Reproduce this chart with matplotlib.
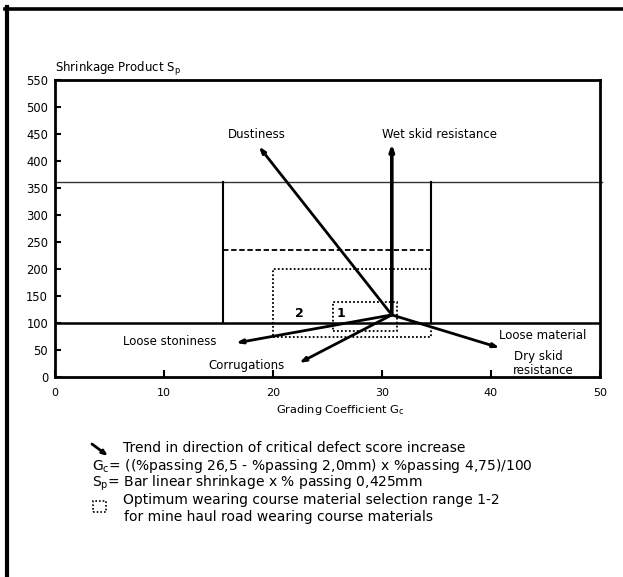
import matplotlib
matplotlib.use("Agg")
import matplotlib.pyplot as plt
from matplotlib.lines import Line2D
from matplotlib.patches import Rectangle

plt.rcParams['font.family'] = ['DejaVu Sans']

# ---- data ----
gc_ticks = [0, 10, 20, 30, 40, 50]
sp_ticks = [0, 50, 100, 150, 200, 250, 300, 350, 400, 450, 500, 550]
sp_upper = 362
sp_lower = 100
gc_box = [15.4, 34.5]
sp_dashed = 236
region2 = [20.0, 34.5, 75, 200]   # gc_min, gc_max, sp_min, sp_max
region1 = [25.5, 31.4, 85, 138]
origin = [30.9, 115]
arrow_names = ["Wet skid resistance", "Dustiness", "Loose stoniness", "Corrugations", "Dry skid resistance"]
arrow_tips_gc = [30.9, 18.7, 16.6, 22.4, 40.8]
arrow_tips_sp = [432, 427, 63, 26, 54]

fig = plt.figure(figsize=(6.23, 5.77), dpi=100)
W, H = 623, 577
ax = fig.add_axes([55 / W, 1 - 377 / H, 545 / W, 297 / H])
ax.set_xlim(gc_ticks[0], gc_ticks[-1])
ax.set_ylim(sp_ticks[0], sp_ticks[-1])
ax.set_xticks(gc_ticks)
ax.set_yticks(sp_ticks)
for s in ax.spines.values():
    s.set_linewidth(2.0)
ax.tick_params(axis='y', direction='in', length=4, width=1.5, pad=5, labelsize=8.3)
ax.tick_params(axis='x', direction='in', length=5, width=1.5, pad=8, labelsize=8.0)

# reference lines and boxes
ax.axhline(sp_upper, color='#333333', lw=1.0, xmax=1.003, clip_on=False)
ax.axhline(sp_lower, color='black', lw=1.8)
ax.plot([gc_box[0], gc_box[0]], [sp_lower, sp_upper], color='black', lw=1.5)
ax.plot([gc_box[1], gc_box[1]], [sp_lower, sp_upper], color='black', lw=1.5)
ax.plot(gc_box, [sp_dashed, sp_dashed], color='black', lw=1.3, linestyle=(0, (3, 1.5)))
for r in (region2, region1):
    ax.add_patch(Rectangle((r[0], r[2]), r[1] - r[0], r[3] - r[2], fill=False,
                           edgecolor='black', lw=1.3, linestyle=(0, (1, 1.2))))

# arrows
for name, gx, sy in zip(arrow_names, arrow_tips_gc, arrow_tips_sp):
    lw = 2.6 if name == "Wet skid resistance" else 2.0
    ax.annotate('', xy=(gx, sy), xytext=(origin[0], origin[1]),
                arrowprops=dict(arrowstyle='-|>,head_length=0.35,head_width=0.12',
                                lw=lw, color='black', shrinkA=0, shrinkB=0))

fs = 8.5
ax.text(18.5, 450, "Dustiness", ha='center', va='center', fontsize=fs)
ax.text(30.0, 450, "Wet skid resistance", ha='left', va='center', fontsize=fs)
ax.text(10.55, 65, "Loose stoniness", ha='center', va='center', fontsize=fs)
ax.text(17.6, 22, "Corrugations", ha='center', va='center', fontsize=fs)
ax.text(44.7, 77.5, "Loose material", ha='center', va='center', fontsize=fs)
ax.text(42.1, 38, "Dry skid", ha='left', va='center', fontsize=fs)
ax.text(42.0, 12, "resistance", ha='left', va='center', fontsize=fs)
ax.text(22.4, 118, "2", ha='center', va='center', fontsize=9, fontweight='bold')
ax.text(26.2, 118, "1", ha='center', va='center', fontsize=9, fontweight='bold')

# axis titles
fig.text(55 / W, 1 - 69 / H, "Shrinkage Product S$_\\mathregular{p}$", ha='left', va='center', fontsize=fs)
fig.text(340 / W, 1 - 410 / H, "Grading Coefficient G$_\\mathregular{c}$", ha='center', va='center', fontsize=8.2)

# legend block
lfs = 10
ax.annotate('', xy=(108 / W, 1 - 456 / H), xytext=(92 / W, 1 - 444 / H),
            xycoords='figure fraction', textcoords='figure fraction',
            arrowprops=dict(arrowstyle='-|>,head_length=0.3,head_width=0.12',
                            lw=2.0, color='black', shrinkA=0, shrinkB=0))
fig.text(123 / W, 1 - 448 / H, "Trend in direction of critical defect score increase", ha='left', va='center', fontsize=lfs)
fig.text(92 / W, 1 - 466 / H, "G$_\\mathregular{c}$= ((%passing 26,5 - %passing 2,0mm) x %passing 4,75)/100", ha='left', va='center', fontsize=lfs)
fig.text(92 / W, 1 - 483 / H, "S$_\\mathregular{p}$= Bar linear shrinkage x % passing 0,425mm", ha='left', va='center', fontsize=lfs)
fig.add_artist(Rectangle((93 / W, 1 - 512 / H), 13 / W, 11 / H, transform=fig.transFigure,
                         fill=False, edgecolor='black', lw=1.2, linestyle=(0, (1, 1.2))))
fig.text(123 / W, 1 - 500 / H, "Optimum wearing course material selection range 1-2", ha='left', va='center', fontsize=lfs)
fig.text(124 / W, 1 - 517 / H, "for mine haul road wearing course materials", ha='left', va='center', fontsize=lfs)

# page frame (top and left)
fig.add_artist(Line2D([5 / W, 1], [1 - 8.5 / H, 1 - 8.5 / H], color='black', lw=2.6, transform=fig.transFigure))
fig.add_artist(Line2D([7 / W, 7 / W], [0, 1 - 7 / H], color='black', lw=3.0, transform=fig.transFigure))

fig.savefig("out.png", dpi=100)
